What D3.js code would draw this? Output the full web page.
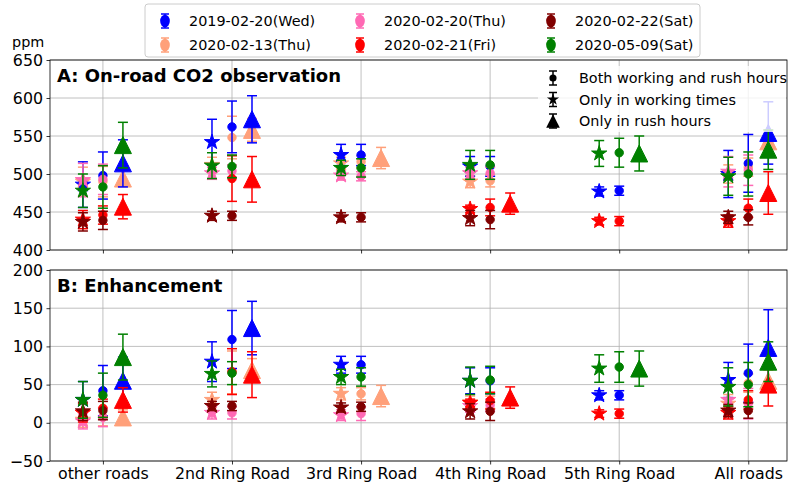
<!DOCTYPE html>
<html><head><meta charset="utf-8">
<script src="https://cdn.jsdelivr.net/npm/d3@7"></script>
<style>body{margin:0;background:#fff} text{font-family:"DejaVu Sans",sans-serif}</style>
</head><body><svg id="c" width="792" height="482"></svg>
<script>
// Road categories along the x axis
const categories = ["other roads", "2nd Ring Road", "3rd Ring Road", "4th Ring Road", "5th Ring Road", "All roads"];
const seriesNames = ["2019-02-20(Wed)", "2020-02-13(Thu)", "2020-02-20(Thu)", "2020-02-21(Fri)", "2020-02-22(Sat)", "2020-05-09(Sat)"];
const seriesColors = ["#0000ff", "#ffa07a", "#ff69b4", "#ff0000", "#800000", "#008000"];
const drawOrder = [1, 0, 2, 3, 4, 5];
const periodTypes = ["both", "work", "rush"];
const periodLabels = ["Both working and rush hours", "Only in working times", "Only in rush hours"];
const topTicks = [400, 450, 500, 550, 600, 650];
const bottomTicks = [-50, 0, 50, 100, 150, 200];

// On-road CO2 (ppm): mean and error per series, per category (null = no data)
const obsWorkMean = [
  [486, 542, 525, 510, 477, 500],
  [490, 512, 514, 490, null, 500],
  [492, 501, 498, 501, null, 503],
  [440, null, null, 454, 438, 438],
  [437, 445, 443, 442, null, 443],
  [478, 511, 508, 512, 527, 497]];
const obsWorkErr = [
  [30, 30, 14, 13, 6, 31],
  [19, 10, 8, 8, 0, 12],
  [22, 8, 6, 8, 0, 20],
  [12, 0, 0, 5, 5, 8],
  [12, 6, 6, 10, 0, 8],
  [22, 17, 10, 19, 17, 25]];
const obsBothMean = [
  [498, 562, 525, 510, 478, 514],
  [490, 548, 516, 491, null, 509],
  [493, 504, 497, 501, null, 505],
  [446, 494, null, 456, 438, 455],
  [439, 445, 443, 440, null, 443],
  [483, 510, 508, 512, 528, 500]];
const obsBothErr = [
  [31, 34, 14, 13, 6, 38],
  [20, 28, 8, 8, 0, 12],
  [20, 8, 6, 8, 0, 20],
  [12, 30, 0, 11, 6, 12],
  [12, 6, 6, 12, 0, 10],
  [28, 15, 12, 19, 19, 29]];
const obsRushMean = [
  [514, 572, null, null, null, 554],
  [494, 558, 521, null, null, 543],
  [null, null, null, null, null, null],
  [457, 493, null, 461, null, 475],
  [null, null, null, null, null, null],
  [538, null, null, null, 527, 532]];
const obsRushErr = [
  [31, 31, 0, 0, 0, 41],
  [10, 15, 14, 0, 0, 14],
  [0, 0, 0, 0, 0, 0],
  [16, 30, 0, 14, 0, 28],
  [0, 0, 0, 0, 0, 0],
  [30, 0, 0, 0, 23, 26]];

// CO2 enhancement (ppm)
const enhWorkMean = [
  [30, 80, 76, 55, 36, 56],
  [4, 30, 38, 27, null, 25],
  [2, 13, 10, 22, null, 30],
  [13, null, null, 26, 12, 13],
  [15, 22, 20, 15, null, 16],
  [30, 64, 60, 55, 71, 47]];
const enhWorkErr = [
  [24, 26, 11, 17, 6, 23],
  [10, 10, 8, 8, 0, 12],
  [10, 8, 7, 8, 0, 20],
  [12, 0, 0, 5, 5, 8],
  [12, 6, 6, 10, 0, 8],
  [24, 17, 10, 18, 18, 25]];
const enhBothMean = [
  [42, 109, 76, 55, 36, 65],
  [8, 66, 38, 27, null, 52],
  [7, 13, 12, 23, null, 25],
  [19, 67, null, 29, 12, 30],
  [16, 22, 21, 15, null, 16],
  [36, 65, 60, 56, 73, 50]];
const enhBothErr = [
  [33, 38, 11, 17, 6, 38],
  [12, 28, 8, 8, 0, 12],
  [12, 8, 9, 8, 0, 20],
  [12, 30, 0, 11, 6, 12],
  [12, 6, 6, 12, 0, 10],
  [29, 15, 12, 18, 20, 29]];
const enhRushMean = [
  [55, 124, null, null, null, 98],
  [7, 69, 35, null, null, 55],
  [null, null, null, null, null, null],
  [30, 63, null, 33, null, 50],
  [null, null, null, null, null, null],
  [86, null, null, null, 71, 80]];
const enhRushErr = [
  [31, 35, 0, 0, 0, 50],
  [10, 15, 14, 0, 0, 14],
  [0, 0, 0, 0, 0, 0],
  [16, 30, 0, 14, 0, 28],
  [0, 0, 0, 0, 0, 0],
  [30, 0, 0, 0, 23, 26]];

const svg = d3.select("#c");
const left = 50, right = 787;
const x = d3.scaleLinear().domain([-0.41, 5.30]).range([left, right]);
const offsets = {work: -0.155, both: 0, rush: 0.155};
const tickFont = 15.8, legendFont = 14.4;

// Marker shapes
function starPath(r) {
  const pts = [];
  for (let i = 0; i < 10; i++) {
    const a = -Math.PI / 2 + i * Math.PI / 5;
    const rr = i % 2 === 0 ? r : r * 0.381966;
    pts.push([rr * Math.cos(a), rr * Math.sin(a)]);
  }
  return "M" + pts.map(p => p.join(",")).join("L") + "Z";
}
function triPath(r) { return `M0,${-r}L${-r},${r}L${r},${r}Z`; }
function circlePath(r) { return d3.symbol(d3.symbolCircle, Math.PI * r * r)(); }
const shapes = {both: circlePath(4.2), work: starPath(8), rush: triPath(8.5)};

function errorBar(g, cx, y0, y1, half, col) {
  g.append("line").attr("x1", cx).attr("x2", cx).attr("y1", y0).attr("y2", y1)
    .attr("stroke", col).attr("stroke-width", 1.5);
  [y0, y1].forEach(c => g.append("line").attr("x1", cx - half).attr("x2", cx + half)
    .attr("y1", c).attr("y2", c).attr("stroke", col).attr("stroke-width", 1.5));
}

function drawPanel(cfg) {
  const y = d3.scaleLinear().domain(cfg.domain).range([cfg.bottom, cfg.top]);
  const g = svg.append("g");
  // grid
  g.append("g").selectAll("line").data(cfg.ticks).join("line")
    .attr("x1", left).attr("x2", right).attr("y1", d => y(d)).attr("y2", d => y(d))
    .attr("stroke", "#b0b0b0").attr("stroke-width", 0.8);
  g.append("g").selectAll("line").data(categories).join("line")
    .attr("x1", (d, i) => x(i)).attr("x2", (d, i) => x(i)).attr("y1", cfg.top).attr("y2", cfg.bottom)
    .attr("stroke", "#b0b0b0").attr("stroke-width", 0.8);
  // y axis
  const ya = g.append("g").attr("transform", `translate(${left},0)`)
    .call(d3.axisLeft(y).tickValues(cfg.ticks).tickSize(3.5).tickPadding(3.5).tickFormat(d3.format("d")));
  ya.select(".domain").remove();
  ya.selectAll("text").attr("font-size", tickFont).attr("fill", "#000").attr("font-family", "DejaVu Sans");
  ya.selectAll("line").attr("stroke", "#000").attr("stroke-width", 0.8);
  // x axis ticks
  const xa = g.append("g").attr("transform", `translate(0,${cfg.bottom})`)
    .call(d3.axisBottom(x).tickValues(d3.range(categories.length)).tickSize(3.5).tickPadding(3.5)
      .tickFormat(cfg.labels ? (i => categories[i]) : () => ""));
  xa.select(".domain").remove();
  xa.selectAll("text").attr("font-size", tickFont).attr("fill", "#000").attr("font-family", "DejaVu Sans");
  xa.selectAll("line").attr("stroke", "#000").attr("stroke-width", 0.8);

  // data
  const groups = {work: [cfg.work, cfg.workErr], both: [cfg.both, cfg.bothErr], rush: [cfg.rush, cfg.rushErr]};
  drawOrder.forEach(s => {
    const col = seriesColors[s];
    const sg = g.append("g");
    ["work", "both", "rush"].forEach(t => {
      const [means, errs] = groups[t];
      const pts = means[s].map((v, i) => ({i, v, e: errs[s][i]})).filter(d => d.v !== null);
      pts.forEach(d => {
        const cx = x(d.i + offsets[t]);
        if (d.e > 0) errorBar(sg, cx, y(d.v - d.e), y(d.v + d.e), 5, col);
        sg.append("path").attr("d", shapes[t]).attr("transform", `translate(${cx},${y(d.v)})`)
          .attr("fill", col).attr("stroke", col).attr("stroke-width", 1);
      });
    });
  });
  // frame
  g.append("rect").attr("x", left).attr("y", cfg.top).attr("width", right - left).attr("height", cfg.bottom - cfg.top)
    .attr("fill", "none").attr("stroke", "#000").attr("stroke-width", 0.8);
  g.append("text").attr("x", 57).attr("y", cfg.top + 22).attr("font-size", 18).attr("font-weight", "bold")
    .text(cfg.title);
  return g;
}

drawPanel({domain: [400, 650], top: 60, bottom: 250, ticks: topTicks, labels: false,
  work: obsWorkMean, workErr: obsWorkErr, both: obsBothMean, bothErr: obsBothErr, rush: obsRushMean, rushErr: obsRushErr,
  title: "A: On-road CO2 observation"});
drawPanel({domain: [-50, 200], top: 270, bottom: 461, ticks: bottomTicks, labels: true,
  work: enhWorkMean, workErr: enhWorkErr, both: enhBothMean, bothErr: enhBothErr, rush: enhRushMean, rushErr: enhRushErr,
  title: "B: Enhancement"});

svg.append("text").attr("x", 12).attr("y", 47).attr("font-size", legendFont).text("ppm");

// marker-type legend inside panel A
const ml = svg.append("g");
ml.append("rect").attr("x", 538).attr("y", 66).attr("width", 248).attr("height", 66)
  .attr("fill", "#fff").attr("opacity", 0.8);
periodTypes.forEach((t, k) => {
  const cy = 78 + k * 21.5;
  const cx = 553;
  errorBar(ml, cx, cy - 7, cy + 7, 4, "#000");
  const sc = t === "both" ? 0.85 : 0.8;
  ml.append("path").attr("d", shapes[t]).attr("transform", `translate(${cx},${cy}) scale(${sc})`).attr("fill", "#000");
  ml.append("text").attr("x", 579).attr("y", cy + 5).attr("font-size", legendFont).text(periodLabels[k]);
});

// series legend above the panels
const lg = svg.append("g");
lg.append("rect").attr("x", 145).attr("y", 4).attr("width", 555).attr("height", 53).attr("rx", 3)
  .attr("fill", "#fff").attr("stroke", "#cccccc").attr("stroke-width", 1);
const colX = [165, 360, 551];
seriesNames.forEach((name, s) => {
  const col = Math.floor(s / 2), row = s % 2;
  const cx = colX[col], cy = 21 + row * 24;
  errorBar(lg, cx, cy - 7, cy + 7, 4, seriesColors[s]);
  lg.append("path").attr("d", shapes.both).attr("transform", `translate(${cx},${cy}) scale(1.15,1.5)`).attr("fill", seriesColors[s]);
  lg.append("text").attr("x", cx + 24).attr("y", cy + 5).attr("font-size", legendFont).text(name);
});
</script>
</body></html>
